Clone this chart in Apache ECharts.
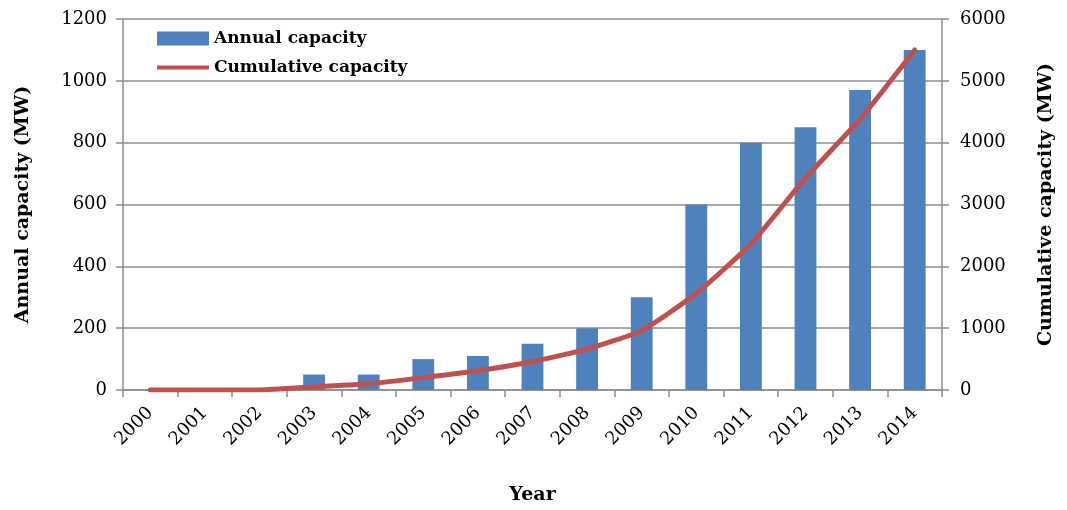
<!DOCTYPE html>
<html>
<head>
<meta charset="utf-8">
<script src="https://cdn.jsdelivr.net/npm/echarts@6/dist/echarts.min.js"></script>
<style>
  html, body { margin: 0; padding: 0; background: #fff; }
  #chart { width: 1067px; height: 510px; }
</style>
</head>
<body>
<div id="chart"></div>
<script>
const years = ['2000', '2001', '2002', '2003', '2004', '2005', '2006', '2007',
  '2008', '2009', '2010', '2011', '2012', '2013', '2014']
const annualCapacity = [0, 0, 0, 50, 50, 100, 110, 150, 200, 300, 600, 800, 850, 970, 1100]
const cumulativeCapacity = [0, 0, 0, 50, 100, 200, 310, 460, 660, 960, 1560, 2360, 3430, 4380, 5500]

const serif = 'DejaVu Serif'
const gridGray = '#8c8c8c'
const plain = (v) => String(v)

const myChart = echarts.init(document.getElementById('chart'))
const option = {
  animation: false,
  grid: { left: 123, right: 125, top: 19, bottom: 119 },
  legend: [
    {
      left: 157,
      top: 30,
      padding: 0,
      itemWidth: 52,
      itemHeight: 14,
      icon: 'rect',
      data: ['Annual capacity'],
      textStyle: { fontFamily: serif, fontWeight: 'bold', fontSize: 17, color: '#000' },
    },
    {
      left: 157,
      top: 59,
      padding: 0,
      itemWidth: 52,
      itemHeight: 14,
      data: [{ name: 'Cumulative capacity', icon: 'path://M0,5 L52,5 L52,9 L0,9 Z M0,0 L0,0.01 M52,14 L52,14.01' }],
      textStyle: { fontFamily: serif, fontWeight: 'bold', fontSize: 17, color: '#000' },
    },
  ],
  xAxis: {
    type: 'category',
    data: years,
    name: 'Year',
    nameLocation: 'middle',
    nameGap: 96,
    nameTextStyle: { fontFamily: serif, fontWeight: 'bold', fontSize: 19, color: '#000' },
    axisLine: { lineStyle: { color: gridGray, width: 1.5 } },
    axisTick: { show: true, length: 7, lineStyle: { color: gridGray, width: 1.5 } },
    axisLabel: { rotate: 45, margin: 20, fontFamily: serif, fontSize: 18, color: '#000' },
  },
  yAxis: [
    {
      type: 'value',
      min: 0,
      max: 1200,
      interval: 200,
      name: 'Annual capacity (MW)',
      nameLocation: 'middle',
      nameGap: 90,
      nameTextStyle: { fontFamily: serif, fontWeight: 'bold', fontSize: 19, color: '#000' },
      axisLine: { show: true, lineStyle: { color: gridGray, width: 1.5 } },
      axisTick: { show: true, length: 7, lineStyle: { color: gridGray, width: 1.5 } },
      axisLabel: { margin: 16, fontFamily: serif, fontSize: 18, color: '#000', formatter: plain },
      splitLine: { lineStyle: { color: gridGray, width: 1.5 } },
    },
    {
      type: 'value',
      position: 'right',
      min: 0,
      max: 6000,
      interval: 1000,
      name: 'Cumulative capacity (MW)',
      nameLocation: 'middle',
      nameGap: 95,
      nameRotate: 90,
      nameTextStyle: { fontFamily: serif, fontWeight: 'bold', fontSize: 19, color: '#000' },
      axisLine: { show: true, lineStyle: { color: gridGray, width: 1.5 } },
      axisTick: { show: true, length: 7, lineStyle: { color: gridGray, width: 1.5 } },
      axisLabel: { margin: 18, fontFamily: serif, fontSize: 18, color: '#000', formatter: plain },
      splitLine: { show: false },
    },
  ],
  series: [
    {
      name: 'Annual capacity',
      type: 'bar',
      yAxisIndex: 0,
      data: annualCapacity,
      barWidth: '40%',
      itemStyle: { color: '#4f81bd' },
    },
    {
      name: 'Cumulative capacity',
      type: 'line',
      yAxisIndex: 1,
      data: cumulativeCapacity,
      smooth: 0.15,
      showSymbol: false,
      symbol: 'none',
      itemStyle: { color: '#c0504d' },
      lineStyle: { color: '#c0504d', width: 5, cap: 'round' },
    },
  ],
}
myChart.setOption(option)
</script>
</body>
</html>
